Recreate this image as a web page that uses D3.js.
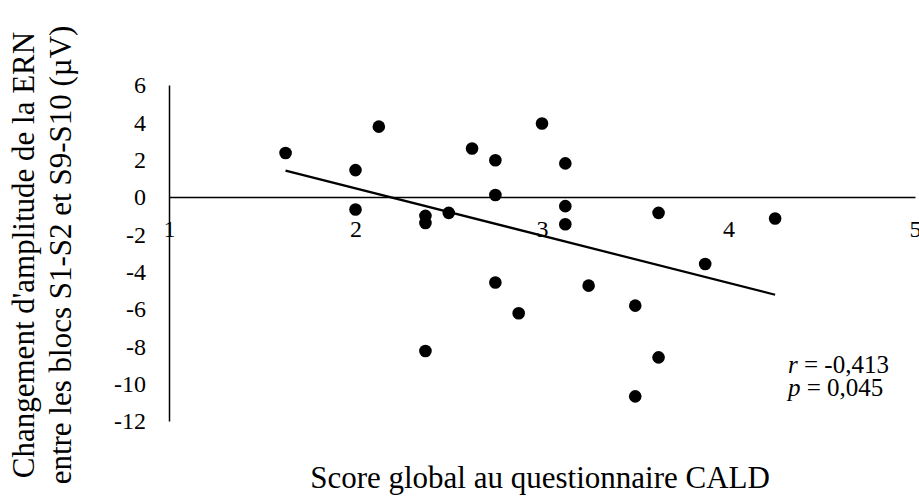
<!DOCTYPE html>
<html>
<head>
<meta charset="utf-8">
<script src="https://cdn.jsdelivr.net/npm/d3@7"></script>
<style>
  body { margin: 0; background: #fff; }
  text { font-family: "Liberation Serif", "Times New Roman", serif; fill: #000; }
</style>
</head>
<body>
<svg id="chart" width="919" height="497"></svg>
<script>
// CALD score vs ERN amplitude change
const caldScore = [1.625, 2, 2, 2.125, 2.375, 2.375, 2.375, 2.5, 2.625, 2.75, 2.75, 2.75,
  2.875, 3, 3.125, 3.125, 3.125, 3.25, 3.5, 3.5, 3.625, 3.625, 3.875, 4.25];
const ernChange = [2.36, 1.44, -0.67, 3.77, -1.01, -1.39, -8.25, -0.85, 2.6, 1.97, 0.11, -4.58,
  -6.23, 3.94, 1.8, -0.49, -1.46, -4.75, -5.82, -10.68, -0.85, -8.59, -3.59, -1.15];
const xTicks = [1, 2, 3, 4, 5];
const yTicks = [6, 4, 2, 0, -2, -4, -6, -8, -10, -12];
const stats = [{ sym: 'r', val: ' = -0,413' }, { sym: 'p', val: ' = 0,045' }];

const pts = caldScore.map((d, i) => ({ x: d, y: ernChange[i] }));
const fmt = d => String(d); // plain hyphen minus like the original

const svg = d3.select('#chart');

const x = d3.scaleLinear().domain([1, 5]).range([169, 915]);
const y = d3.scaleLinear().domain([-12, 6]).range([421, 85]);

// y axis (no ticks, just line + labels)
const yAxis = svg.append('g')
  .attr('transform', 'translate(' + x(1) + ',0)')
  .call(d3.axisLeft(y).tickValues(yTicks).tickSize(0).tickPadding(23).tickFormat(fmt));
yAxis.attr('font-family', null).attr('font-size', null);
yAxis.select('.domain').attr('stroke', '#000').attr('stroke-width', 1.5);
yAxis.selectAll('text').style('font-size', '24px');

// x axis at y = 0
const xAxis = svg.append('g')
  .attr('transform', 'translate(0,' + y(0) + ')')
  .call(d3.axisBottom(x).tickValues(xTicks).tickSize(0).tickPadding(23).tickFormat(fmt));
xAxis.attr('font-family', null).attr('font-size', null);
xAxis.select('.domain').attr('stroke', '#000').attr('stroke-width', 1.5);
xAxis.selectAll('text').style('font-size', '24px');

// linear trendline (least squares)
const mx = d3.mean(pts, d => d.x), my = d3.mean(pts, d => d.y);
const slope = d3.sum(pts, d => (d.x - mx) * (d.y - my)) / d3.sum(pts, d => (d.x - mx) ** 2);
const icpt = my - slope * mx;
const ext = d3.extent(pts, d => d.x);
svg.append('path')
  .datum(ext.map(v => ({ x: v, y: icpt + slope * v })))
  .attr('fill', 'none')
  .attr('stroke', '#000')
  .attr('stroke-width', 2.25)
  .attr('d', d3.line().x(d => x(d.x)).y(d => y(d.y)));

// points
svg.append('g').selectAll('circle')
  .data(pts)
  .join('circle')
  .attr('cx', d => x(d.x))
  .attr('cy', d => y(d.y))
  .attr('r', 6.3)
  .attr('fill', '#000');

// r / p annotation
const ann = svg.append('g');
stats.forEach((s, i) => {
  const t = ann.append('text')
    .attr('x', 788)
    .attr('y', 373 + i * 23)
    .style('font-size', '25px');
  t.append('tspan').style('font-style', 'italic').text(s.sym);
  t.append('tspan').text(s.val);
});

// axis titles
svg.append('text')
  .attr('x', 540)
  .attr('y', 488)
  .attr('text-anchor', 'middle')
  .style('font-size', '31px')
  .text('Score global au questionnaire CALD');

const yTitle = ["Changement d'amplitude de la ERN", 'entre les blocs S1-S2 et S9-S10 (\u00b5V)'];
svg.append('g')
  .attr('transform', 'translate(34,255) rotate(-90)')
  .selectAll('text')
  .data(yTitle)
  .join('text')
  .attr('x', 0)
  .attr('y', (d, i) => i * 37)
  .attr('text-anchor', 'middle')
  .style('font-size', '31px')
  .text(d => d);
</script>
</body>
</html>
